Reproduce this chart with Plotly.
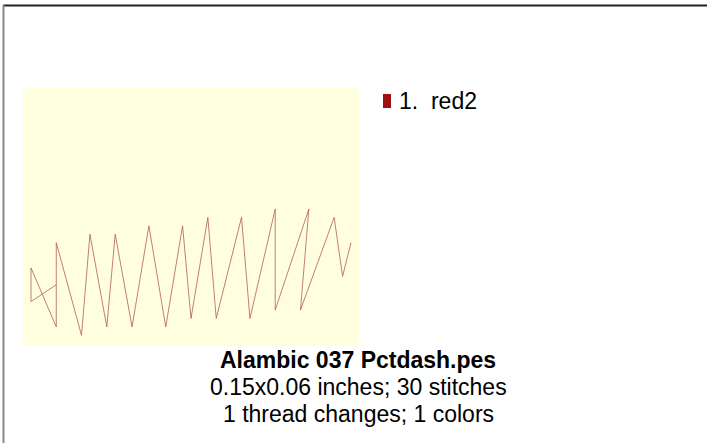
import plotly.graph_objects as go

# Puntadas (unidades de 0.1 mm, y hacia abajo)
stitch_x = [3, 0, 0, 3, 3, 6, 7, 9, 10, 12, 14, 16, 18, 19, 21, 22, 25, 26, 29, 29, 33, 32, 36, 37, 38]
stitch_y = [9, 11, 7, 14, 4, 15, 3, 14, 3, 14, 2, 14, 2, 13, 1, 13, 1, 13, 0, 12, 0, 12, 1, 8, 4]

thread_names = ["1.  red2"]
thread_colors = ["#a01010"]

title_lines = [
    "<b>Alambic 037 Pctdash.pes</b>",
    "0.15x0.06 inches; 30 stitches",
    "1 thread changes; 1 colors",
]

W, H = 707, 443
L, R, T, B = 23, 348, 88, 97
PW, PH = W - L - R, H - T - B


def px(x):
    return (x - L) / PW


def py(y):
    return (H - B - y) / PH


fig = go.Figure(go.Scatter(
    x=stitch_x, y=stitch_y, mode="lines",
    line=dict(color="#b45a5a", width=0.8),
    showlegend=False, hoverinfo="skip"
))

shapes = [
    # marco
    dict(type="line", xref="paper", yref="paper", x0=px(3), x1=px(W + 5),
         y0=py(5.5), y1=py(5.5), line=dict(color="#222222", width=2)),
    dict(type="line", xref="paper", yref="paper", x0=px(3.5), x1=px(3.5),
         y0=py(5), y1=py(H + 5), line=dict(color="#888888", width=2)),
    # cuadro de leyenda
    dict(type="rect", xref="paper", yref="paper", x0=px(383), x1=px(391),
         y0=py(108), y1=py(94), fillcolor=thread_colors[0], line=dict(width=0)),
]

annotations = [
    dict(text=thread_names[0], xref="paper", yref="paper", x=px(397), y=py(101),
         xanchor="left", yanchor="middle", showarrow=False,
         font=dict(family="Liberation Sans, Arial", size=23, color="black")),
]
for t, yc in zip(title_lines, [360, 387, 414]):
    annotations.append(dict(
        text=t, xref="paper", yref="paper", x=px(358), y=py(yc),
        xanchor="center", yanchor="middle", showarrow=False,
        font=dict(family="Liberation Sans, Arial", size=23, color="black")))

fig.update_layout(
    width=W, height=H,
    margin=dict(l=L, r=R, t=T, b=B),
    paper_bgcolor="white",
    plot_bgcolor="#ffffe0",
    xaxis=dict(range=[-0.95, 38.95], visible=False, fixedrange=True),
    yaxis=dict(range=[16.27, -14.37], visible=False, fixedrange=True),
    shapes=shapes,
    annotations=annotations,
)

fig.write_html("out.html", config={"displayModeBar": False},
               post_script="document.body.style.margin='0';")
